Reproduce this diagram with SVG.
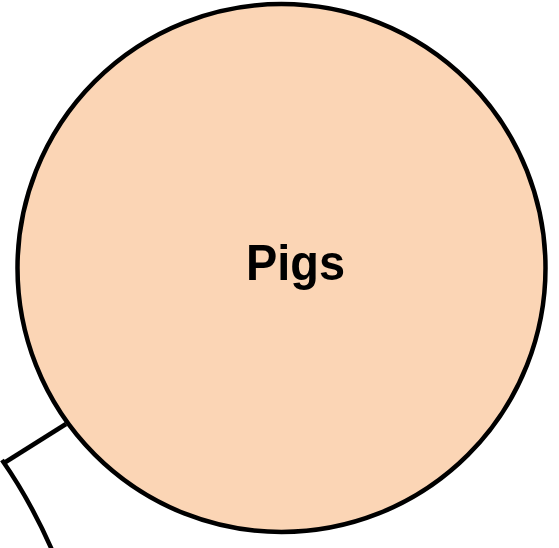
<svg xmlns="http://www.w3.org/2000/svg" width="559" height="548" viewBox="0 0 559 548">
<style>
.n{stroke:#000;stroke-width:4.5}
.c{fill:none;stroke:#000;stroke-width:4.5}
.t{font-family:"Liberation Sans",Arial,sans-serif;font-weight:bold;font-size:50px;fill:#000}
</style>
<rect width="559" height="548" fill="#fff"/>
<g id="connectors">
<line class="c" x1="4" y1="463" x2="66" y2="424"/>
</g>
<g id="other">
<path class="c" d="M2,460 Q30,500 52,550"/>
</g>
<g id="pigs">
<circle class="n" cx="281.5" cy="268" r="264" fill="#FBD5B5"/>
<text class="t" x="246" y="280" textLength="99" lengthAdjust="spacingAndGlyphs">Pigs</text>
</g>
</svg>
